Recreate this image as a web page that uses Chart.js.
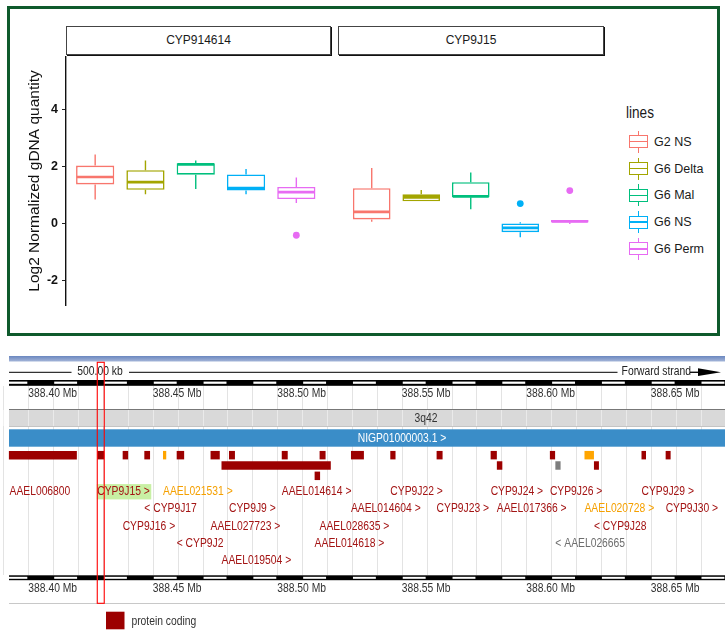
<!DOCTYPE html>
<html>
<head>
<meta charset="utf-8">
<script src="https://cdn.jsdelivr.net/npm/chart.js@4.4.1/dist/chart.umd.min.js"></script>
<style>
html,body{margin:0;padding:0;background:#fff;}
body{width:725px;height:639px;position:relative;overflow:hidden;font-family:'Liberation Sans',Arial,Helvetica,sans-serif;}
.abs{position:absolute;}
#frame{left:7px;top:6px;width:713px;height:330px;border:3px solid #0e5a2c;box-sizing:border-box;}
.strip{top:26px;height:29px;box-sizing:border-box;border:1px solid #444;box-shadow:1px 1px 0 #111;background:#fff;font-size:12px;color:#1a1a1a;text-align:center;line-height:27px;}
#legTitle{left:626px;top:104px;font-size:16px;color:#1a1a1a;transform:scaleX(0.85);transform-origin:left center;}
.legText{font-size:12.5px;color:#1a1a1a;left:654px;line-height:16px;white-space:nowrap;}
</style>
</head>
<body>
<div id="frame" class="abs"></div>
<div id="strip1" class="abs strip" style="left:66px;width:265px;"></div>
<div id="strip2" class="abs strip" style="left:338px;width:266px;"></div>
<canvas id="c1" class="abs" style="left:0;top:45px;width:330px;height:272px;" width="330" height="272"></canvas>
<canvas id="c2" class="abs" style="left:339px;top:45px;width:264px;height:272px;" width="264" height="272"></canvas>
<div id="legTitle" class="abs">lines</div>
<div id="legend"></div>
<canvas id="c3" class="abs" style="left:0;top:340px;width:725px;height:299px;" width="725" height="299"></canvas>
<script>
// ---------------- DATA: boxplot ----------------
const facetNames = ['CYP914614', 'CYP9J15'];
const lines = ['G2 NS', 'G6 Delta', 'G6 Mal', 'G6 NS', 'G6 Perm'];
const yTicks = [-2, 0, 2, 4];
const yTitle = 'Log2 Normalized gDNA quantity';

// facet 1: CYP914614
const f1WhiskLow  = [0.84, 1.03, 1.21, 1.03, 0.72];
const f1Q1        = [1.37, 1.18, 1.71, 1.16, 0.86];
const f1Median    = [1.63, 1.45, 2.07, 1.24, 1.10];
const f1Q3        = [2.03, 1.87, 2.11, 1.72, 1.28];
const f1WhiskHigh = [2.42, 2.21, 2.21, 1.91, 1.61];
const f1OutLine   = ['G6 Perm'];
const f1OutValue  = [-0.41];

// facet 2: CYP9J15
const f2WhiskLow  = [0.08, 0.79, 0.51, -0.46, 0.00];
const f2Q1        = [0.16, 0.79, 0.93, -0.28, 0.05];
const f2Median    = [0.42, 0.92, 0.96, -0.13, 0.09];
const f2Q3        = [1.24, 1.03, 1.45, 0.02, 0.14];
const f2WhiskHigh = [1.94, 1.18, 1.78, 0.06, 0.14];
const f2OutLine   = ['G6 NS', 'G6 Perm'];
const f2OutValue  = [0.71, 1.16];

// ---------------- DATA: genome browser ----------------
const geneNames  = ['AAEL006800','CYP9J15','CYP9J16','CYP9J17','AAEL021531','CYP9J2','AAEL027723','CYP9J9','AAEL019504','AAEL014614','AAEL014618','AAEL028635','AAEL014604','CYP9J22','CYP9J23','CYP9J24','AAEL017366','CYP9J26','AAEL026665','AAEL020728','CYP9J28','CYP9J29','CYP9J30'];
const geneStart  = [388.3922,388.4277,388.4379,388.4466,388.4541,388.4596,388.4732,388.4806,388.4776,388.5018,388.5150,388.5170,388.5296,388.5454,388.5640,388.5857,388.5882,388.6095,388.6117,388.6234,388.6272,388.6463,388.6560];
const geneEnd    = [388.4195,388.4305,388.4401,388.4489,388.4554,388.4626,388.4769,388.4830,388.5215,388.5042,388.5172,388.5194,388.5348,388.5475,388.5664,388.5882,388.5904,388.6116,388.6138,388.6272,388.6292,388.6481,388.6580];
const geneTrack  = [0,0,0,0,0,0,0,0,1,0,2,0,0,0,0,0,1,0,1,0,1,0,0];
const geneLabelRow = [0,0,2,1,0,3,2,1,4,0,3,2,1,0,1,0,1,0,3,1,2,0,1];
const geneStrand = ['','+','+','-','+','-','+','+','+','+','+','+','+','+','+','+','+','+','-','+','-','+','+'];
const geneType   = ['pc','pc','pc','pc','nc','pc','pc','pc','pc','pc','pc','pc','pc','pc','pc','pc','pc','pc','ps','nc','pc','pc','pc'];
const highlightGene = 'CYP9J15';
const mbLabelValues = [388.40, 388.45, 388.50, 388.55, 388.60, 388.65];
const mbLabels = ['388.40 Mb','388.45 Mb','388.50 Mb','388.55 Mb','388.60 Mb','388.65 Mb'];
const trackNames = ['t0','t1','t2'];
const bandName = '3q42';
const contigName = 'NIGP01000003.1 >';
const scaleText = '500.00 kb';
const strandText = 'Forward strand';
const legendBiotype = 'protein coding';

// ---------------- STYLE ----------------
const lineColors = ['#F8766D', '#A3A500', '#00BF7D', '#00B0F6', '#E76BF3'];
const FONT = "'Liberation Sans', Arial, Helvetica, sans-serif";
const barColors = {pc:'#9c0000', nc:'#ffa500', ps:'#7d7d7d'};
const textColors = {pc:'#a31414', nc:'#f5a000', ps:'#6e6e6e'};

document.getElementById('strip1').textContent = facetNames[0];
document.getElementById('strip2').textContent = facetNames[1];

// ---------------- boxplot charts ----------------
function boxPartsPlugin(lo, md, hi, q1, q3) {
  return {
    id: 'boxParts',
    beforeDatasetsDraw(chart) {
      const ctx = chart.ctx, xs = chart.scales.x, ys = chart.scales.y;
      ctx.save();
      ctx.lineWidth = 1.4;
      lines.forEach((l, i) => {
        const x = xs.getPixelForValue(i + 1);
        ctx.strokeStyle = lineColors[i];
        ctx.beginPath();
        ctx.moveTo(x, ys.getPixelForValue(hi[i]));
        ctx.lineTo(x, ys.getPixelForValue(q3[i]));
        ctx.moveTo(x, ys.getPixelForValue(q1[i]));
        ctx.lineTo(x, ys.getPixelForValue(lo[i]));
        ctx.stroke();
      });
      ctx.restore();
    },
    afterDatasetsDraw(chart) {
      const ctx = chart.ctx, xs = chart.scales.x, ys = chart.scales.y;
      const bars = chart.getDatasetMeta(0).data;
      ctx.save();
      ctx.lineWidth = 2.7;
      lines.forEach((l, i) => {
        const x = xs.getPixelForValue(i + 1);
        const hw = bars[i].width / 2 - 0.8;
        const y = ys.getPixelForValue(md[i]);
        ctx.strokeStyle = lineColors[i];
        ctx.beginPath();
        ctx.moveTo(x - hw, y);
        ctx.lineTo(x + hw, y);
        ctx.stroke();
      });
      ctx.restore();
    }
  };
}

function makeBoxChart(id, lo, q1, md, q3, hi, outLine, outValue, showY) {
  const yAxis = {
    type: 'linear', min: -2.87, max: 5.85, display: showY,
    afterBuildTicks: s => { s.ticks = yTicks.map(v => ({value: v})); }
  };
  if (showY) {
    Object.assign(yAxis, {
      afterFit: s => { s.width = 66; },
      ticks: {color: '#111', font: {family: FONT, size: 12.5, weight: 'bold'}, padding: 4},
      grid: {drawOnChartArea: false, drawTicks: true, tickLength: 4, color: '#222', lineWidth: 1},
      border: {display: true, color: '#111', width: 1.4},
      title: {display: true, text: yTitle, color: '#111', font: {family: FONT, size: 15.5}, padding: {top: 25, bottom: 0}}
    });
  }
  return new Chart(document.getElementById(id), {
    type: 'bar',
    data: {
      datasets: [
        {
          type: 'bar',
          data: lines.map((l, i) => ({x: i + 1, y: [q1[i], q3[i]]})),
          backgroundColor: '#ffffff',
          borderColor: lineColors,
          borderWidth: 1.6,
          borderSkipped: false,
          barPercentage: 0.76,
          categoryPercentage: 1
        },
        {
          type: 'scatter',
          data: outLine.map((l, k) => ({x: lines.indexOf(l) + 1, y: outValue[k]})),
          pointRadius: 3.4,
          pointBorderWidth: 0,
          pointBackgroundColor: outLine.map(l => lineColors[lines.indexOf(l)]),
          pointBorderColor: outLine.map(l => lineColors[lines.indexOf(l)])
        }
      ]
    },
    options: {
      animation: false, responsive: false,
      layout: {padding: {top: 10, bottom: 10, left: 0, right: 0}},
      plugins: {legend: {display: false}, tooltip: {enabled: false}},
      scales: {
        x: {type: 'linear', min: 0.42, max: 5.59, display: false, offset: false},
        y: yAxis
      }
    },
    plugins: [boxPartsPlugin(lo, md, hi, q1, q3)]
  });
}

makeBoxChart('c1', f1WhiskLow, f1Q1, f1Median, f1Q3, f1WhiskHigh, f1OutLine, f1OutValue, true);
makeBoxChart('c2', f2WhiskLow, f2Q1, f2Median, f2Q3, f2WhiskHigh, f2OutLine, f2OutValue, false);

// legend
const legend = document.getElementById('legend');
lines.forEach((name, i) => {
  const cy = 141.7 + 26.8 * i;
  const c = lineColors[i];
  const key = document.createElement('div');
  key.className = 'abs';
  key.style.cssText = `left:629px;top:${cy - 11}px;width:19px;height:22px;`;
  key.innerHTML =
    `<div class="abs" style="left:8.8px;top:0;width:1.5px;height:22px;background:${c}"></div>` +
    `<div class="abs" style="left:0;top:4.5px;width:19px;height:13px;box-sizing:border-box;border:1.5px solid ${c};background:#fff"></div>` +
    `<div class="abs" style="left:0;top:10.3px;width:19px;height:1.5px;background:${c}"></div>`;
  legend.appendChild(key);
  const t = document.createElement('div');
  t.className = 'abs legText';
  t.style.top = (cy - 8) + 'px';
  t.textContent = name;
  legend.appendChild(t);
});

// ---------------- genome browser chart ----------------
const T = 340; // canvas page offset
function txt(ctx, s, x, y, color, align, size, sx) {
  ctx.save();
  ctx.translate(x, y);
  ctx.scale(sx || 0.86, 1);
  ctx.font = `${size || 12}px ${FONT}`;
  ctx.fillStyle = color;
  ctx.textAlign = align || 'left';
  ctx.textBaseline = 'middle';
  ctx.fillText(s, 0, 0);
  const w = ctx.measureText(s).width * (sx || 0.86);
  ctx.restore();
  return w;
}
function hline(ctx, x1, x2, y, color, w) {
  ctx.strokeStyle = color; ctx.lineWidth = w || 1;
  ctx.beginPath(); ctx.moveTo(x1, y); ctx.lineTo(x2, y); ctx.stroke();
}
const minorTicks = Array.from({length: 29}, (_, k) => +(388.39 + k * 0.01).toFixed(2));

function drawRuler(ctx, X, y0, y1, w0, w1) {
  ctx.fillStyle = '#000';
  ctx.fillRect(9, y0, 725 - 9, y1 - y0);
  ctx.fillStyle = '#fff';
  minorTicks.forEach(v => {
    const h = Math.round(v * 100);
    if (h % 2 === 1) {
      const a = Math.max(X(v) + 1, 9), b = X(v + 0.01) - 1;
      ctx.fillRect(a, w0, b - a, w1 - w0);
    }
  });
}

const browserPlugin = {
  id: 'browser',
  beforeDatasetsDraw(chart) {
    const ctx = chart.ctx, xs = chart.scales.x;
    const X = v => xs.getPixelForValue(v);
    const Y = py => py - T;
    const L = 9, R = 725;
    ctx.save();
    // top bar
    const g = ctx.createLinearGradient(0, Y(356), 0, Y(361.5));
    g.addColorStop(0, '#6a87bf'); g.addColorStop(1, '#a4b5d8');
    ctx.fillStyle = g; ctx.fillRect(L, Y(356), R - L, 5.5);
    // gridlines
    ctx.lineWidth = 1;
    minorTicks.forEach(v => {
      const x = Math.round(X(v)) + 0.5;
      ctx.strokeStyle = '#e3e3e3';
      ctx.beginPath(); ctx.moveTo(x, Y(386)); ctx.lineTo(x, Y(575)); ctx.stroke();
    });
    // scale line
    hline(ctx, L, 71.5, Y(372.3), '#333', 1.2);
    txt(ctx, scaleText, 77.3, Y(372), '#222', 'left', 12);
    hline(ctx, 129, 617.5, Y(372.3), '#333', 1.2);
    txt(ctx, strandText, 621.6, Y(372), '#222', 'left', 12);
    hline(ctx, 690, 700, Y(372.3), '#111', 1.4);
    ctx.fillStyle = '#000';
    ctx.beginPath(); ctx.moveTo(698, Y(368.3)); ctx.lineTo(721, Y(372.3)); ctx.lineTo(698, Y(376)); ctx.closePath(); ctx.fill();
    // top ruler
    drawRuler(ctx, X, Y(380), Y(385.8), Y(381.6), Y(383.8));
    mbLabelValues.forEach((v, k) => txt(ctx, mbLabels[k], X(v), Y(393.5), '#333', 'left', 12));
    // cytoband
    ctx.fillStyle = '#d9d9d9'; ctx.fillRect(L, Y(409.5), R - L, 17.3);
    hline(ctx, L, R, Y(409.5), '#777', 1);
    hline(ctx, L, R, Y(426.5), '#c4c4c4', 1);
    minorTicks.forEach(v => {
      const x = Math.round(X(v)) + 0.5;
      ctx.strokeStyle = 'rgba(255,255,255,0.45)';
      ctx.beginPath(); ctx.moveTo(x, Y(410)); ctx.lineTo(x, Y(426)); ctx.stroke();
    });
    txt(ctx, bandName, 426, Y(418.5), '#333', 'center', 12);
    // contig
    ctx.fillStyle = '#3a8dc8'; ctx.fillRect(L, Y(429.3), R - L, 17.4);
    txt(ctx, contigName, 402, Y(438.2), '#ffffff', 'center', 12);
    // gene labels
    geneNames.forEach((n, i) => {
      const s = geneStrand[i] === '+' ? n + ' >' : (geneStrand[i] === '-' ? '< ' + n : n);
      const x = X(geneStart[i]);
      const y = Y(491.7 + 17.25 * geneLabelRow[i]);
      if (n === highlightGene) {
        ctx.save();
        ctx.font = `12px ${FONT}`;
        const w = ctx.measureText(s).width * 0.86;
        ctx.restore();
        ctx.fillStyle = '#c8f0a4';
        ctx.fillRect(x - 0.5, y - 7.6, w + 2, 15.3);
      }
      txt(ctx, s, Math.max(x, 9.5), y, textColors[geneType[i]], 'left', 12);
    });
    // bottom ruler
    drawRuler(ctx, X, Y(575.3), Y(580.2), Y(576.8), Y(578.8));
    mbLabelValues.forEach((v, k) => txt(ctx, mbLabels[k], X(v), Y(588.5), '#333', 'left', 12));
    hline(ctx, L, R, Y(603.5), '#c8c8c8', 1);
    // legend
    ctx.fillStyle = barColors.pc; ctx.fillRect(106, Y(611.7), 18.5, 17.6);
    txt(ctx, legendBiotype, 131.4, Y(621.5), '#333', 'left', 12);
    ctx.restore();
  },
  afterDatasetsDraw(chart) {
    const ctx = chart.ctx, xs = chart.scales.x;
    const i = geneNames.indexOf(highlightGene);
    const x1 = xs.getPixelForValue(geneStart[i]), x2 = xs.getPixelForValue(geneEnd[i]);
    ctx.save();
    ctx.strokeStyle = '#ff0000'; ctx.lineWidth = 1.1;
    ctx.strokeRect(x1, 362.3 - T, x2 - x1, 603.3 - 362.3);
    ctx.restore();
  }
};

new Chart(document.getElementById('c3'), {
  type: 'bar',
  data: {
    labels: trackNames,
    datasets: ['pc', 'nc', 'ps'].map(bt => ({
      data: geneNames.map((n, i) => i).filter(i => geneType[i] === bt)
        .map(i => ({x: [geneStart[i], geneEnd[i]], y: trackNames[geneTrack[i]]})),
      backgroundColor: barColors[bt],
      borderWidth: 0,
      barPercentage: 0.82,
      categoryPercentage: 1,
      grouped: false
    }))
  },
  options: {
    indexAxis: 'y',
    animation: false, responsive: false,
    layout: {padding: {top: 110, bottom: 158, left: 0, right: 0}},
    plugins: {legend: {display: false}, tooltip: {enabled: false}},
    scales: {
      x: {type: 'linear', min: 388.38863, max: 388.67984, display: false},
      y: {type: 'category', display: false, offset: true}
    }
  },
  plugins: [browserPlugin]
});
</script>
</body>
</html>
